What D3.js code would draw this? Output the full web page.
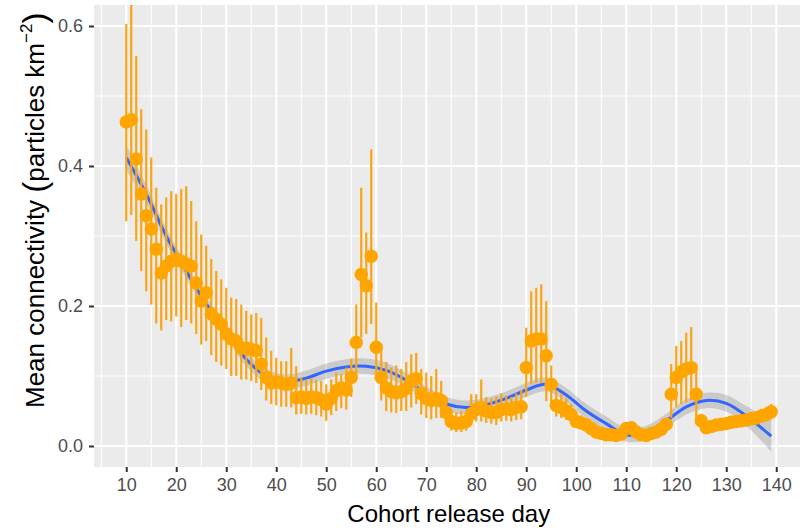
<!DOCTYPE html>
<html><head><meta charset="utf-8">
<script src="https://cdn.jsdelivr.net/npm/d3@7/dist/d3.min.js"></script>
<style>body{margin:0;background:#fff}svg{display:block}</style>
</head><body>
<svg id="chart" width="800" height="529"></svg>
<script>
// ---- data ----
const days = [10,11,12,13,14,15,16,17,18,19,20,21,22,23,24,25,26,27,28,29,30,31,32,33,34,35,36,37,38,39,
40,41,42,43,44,45,46,47,48,49,50,51,52,53,54,55,56,57,58,59,60,61,62,63,64,65,66,67,68,69,
70,71,72,73,74,75,76,77,78,79,80,81,82,83,84,85,86,87,88,89,90,91,92,93,94,95,96,97,98,99,
100,101,102,103,104,105,106,107,108,109,110,111,112,113,114,115,116,117,118,119,
120,121,122,123,124,125,126,127,128,129,130,131,132,133,134,135,136,137,138,139];
const meanConn = [0.463,0.466,0.41,0.36,0.329,0.31,0.281,0.247,0.257,0.264,0.267,0.264,0.26,0.257,0.233,0.207,0.219,0.189,0.181,0.174,
0.16,0.153,0.15,0.14,0.14,0.138,0.136,0.117,0.098,0.09,0.092,0.09,0.088,0.09,0.069,0.07,0.068,0.07,0.069,0.066,
0.06,0.068,0.079,0.083,0.08,0.098,0.148,0.245,0.229,0.271,0.141,0.098,0.083,0.078,0.076,0.078,0.082,0.093,0.096,0.075,
0.068,0.065,0.068,0.065,0.048,0.035,0.032,0.033,0.035,0.046,0.052,0.055,0.05,0.048,0.048,0.052,0.053,0.052,0.055,0.056,
0.112,0.15,0.153,0.153,0.129,0.088,0.058,0.055,0.05,0.045,0.035,0.033,0.03,0.025,0.02,0.018,0.016,0.016,0.015,0.017,
0.025,0.026,0.02,0.016,0.015,0.018,0.02,0.024,0.031,0.074,0.098,0.106,0.11,0.112,0.074,0.036,0.026,0.028,0.03,0.031,
0.032,0.034,0.035,0.036,0.037,0.039,0.04,0.043,0.045,0.049];
const lowerCI = [0.321,0.33,0.293,0.25,0.221,0.202,0.175,0.165,0.18,0.178,0.185,0.17,0.18,0.175,0.16,0.145,0.15,0.13,0.12,0.115,
0.11,0.1,0.1,0.095,0.095,0.093,0.09,0.08,0.065,0.06,0.058,0.056,0.056,0.055,0.045,0.046,0.045,0.046,0.044,0.042,
0.036,0.044,0.05,0.054,0.052,0.07,0.1,0.155,0.16,0.174,0.095,0.065,0.05,0.048,0.047,0.05,0.05,0.055,0.06,0.045,
0.04,0.038,0.04,0.04,0.03,0.022,0.02,0.02,0.022,0.03,0.035,0.035,0.033,0.032,0.03,0.035,0.036,0.035,0.037,0.038,
0.07,0.088,0.09,0.09,0.064,0.062,0.042,0.04,0.037,0.033,0.026,0.024,0.022,0.018,0.014,0.012,0.011,0.011,0.01,0.012,
0.018,0.019,0.014,0.011,0.01,0.012,0.014,0.017,0.022,0.04,0.055,0.06,0.062,0.065,0.031,0.026,0.019,0.02,0.022,0.023,
0.024,0.025,0.026,0.027,0.028,0.03,0.031,0.033,0.035,0.038];
const upperCI = [0.603,0.66,0.557,0.481,0.452,0.412,0.369,0.345,0.355,0.364,0.36,0.367,0.371,0.35,0.321,0.302,0.286,0.267,0.25,0.238,
0.226,0.212,0.21,0.202,0.193,0.188,0.19,0.183,0.155,0.136,0.126,0.121,0.121,0.14,0.114,0.098,0.095,0.097,0.094,0.093,
0.088,0.095,0.105,0.103,0.112,0.125,0.202,0.369,0.305,0.424,0.205,0.14,0.12,0.112,0.115,0.11,0.12,0.131,0.133,0.11,
0.105,0.1,0.11,0.093,0.07,0.05,0.048,0.05,0.05,0.074,0.074,0.095,0.07,0.068,0.071,0.075,0.072,0.07,0.075,0.08,
0.169,0.221,0.226,0.231,0.207,0.115,0.08,0.075,0.068,0.06,0.046,0.044,0.04,0.034,0.028,0.025,0.022,0.022,0.021,0.023,
0.032,0.033,0.027,0.022,0.021,0.024,0.027,0.032,0.04,0.117,0.143,0.15,0.162,0.17,0.112,0.046,0.034,0.036,0.038,0.04,
0.041,0.043,0.044,0.045,0.046,0.048,0.05,0.053,0.056,0.06];
// smoother (fit and standard-error half-width) read at sample days
const smoothDays = [10,14,18,22,26,30,34,38,42,46,50,54,58,62,66,70,74,78,82,86,90,94,98,102,106,110,114,118,122,126,130,134,139];
const smoothFit  = [0.412,0.36,0.3,0.25,0.203,0.164,0.124,0.1,0.092,0.097,0.107,0.113,0.114,0.108,0.094,0.075,0.06,0.055,0.059,0.068,0.08,0.088,0.073,0.05,0.032,0.016,0.019,0.036,0.056,0.065,0.061,0.043,0.014];
const smoothSE   = [0.018,0.013,0.011,0.01,0.01,0.01,0.01,0.01,0.01,0.011,0.011,0.011,0.011,0.011,0.01,0.01,0.01,0.01,0.01,0.01,0.01,0.01,0.01,0.01,0.01,0.01,0.01,0.01,0.011,0.011,0.012,0.014,0.022];
const xTicks = [10,20,30,40,50,60,70,80,90,100,110,120,130,140];
const xMinor = [5,15,25,35,45,55,65,75,85,95,105,115,125,135,145];
const yTicks = [0,0.2,0.4,0.6];
const yMinor = [0.1,0.3,0.5];
const yTickLabels = ["0.0","0.2","0.4","0.6"];

// ---- layout ----
const svg = d3.select("#chart");
const P = {left:94, right:803.5, top:5, bottom:467};
const x = d3.scaleLinear().domain([3.55,145.45]).range([P.left,P.right]);
const y = d3.scaleLinear().domain([-0.03,0.63]).range([P.bottom,P.top]);

svg.append("rect").attr("x",0).attr("y",0).attr("width",800).attr("height",529).attr("fill","#fff");
svg.append("rect").attr("x",P.left).attr("y",P.top).attr("width",P.right-P.left).attr("height",P.bottom-P.top).attr("fill","#EBEBEB");

svg.append("defs").append("clipPath").attr("id","clip")
  .append("rect").attr("x",P.left).attr("y",P.top).attr("width",P.right-P.left).attr("height",P.bottom-P.top);

const grid = svg.append("g");
grid.selectAll(".xmin").data(xMinor).join("line")
  .attr("x1",d=>x(d)).attr("x2",d=>x(d)).attr("y1",P.top).attr("y2",P.bottom)
  .attr("stroke","#fff").attr("stroke-width",1.1);
grid.selectAll(".ymin").data(yMinor).join("line")
  .attr("y1",d=>y(d)).attr("y2",d=>y(d)).attr("x1",P.left).attr("x2",P.right)
  .attr("stroke","#fff").attr("stroke-width",1.1);
grid.selectAll(".xmaj").data(xTicks).join("line")
  .attr("x1",d=>x(d)).attr("x2",d=>x(d)).attr("y1",P.top).attr("y2",P.bottom)
  .attr("stroke","#fff").attr("stroke-width",2.2);
grid.selectAll(".ymaj").data(yTicks).join("line")
  .attr("y1",d=>y(d)).attr("y2",d=>y(d)).attr("x1",P.left).attr("x2",P.right)
  .attr("stroke","#fff").attr("stroke-width",2.2);

const plot = svg.append("g").attr("clip-path","url(#clip)");
const smooth = smoothDays.map((d,i)=>({day:d, fit:smoothFit[i], se:smoothSE[i]}));
plot.append("path").datum(smooth)
  .attr("d", d3.area().x(d=>x(d.day)).y0(d=>y(d.fit-d.se)).y1(d=>y(d.fit+d.se)).curve(d3.curveCatmullRom.alpha(0.5)))
  .attr("fill","#999999").attr("fill-opacity",0.4);
plot.append("path").datum(smooth)
  .attr("d", d3.line().x(d=>x(d.day)).y(d=>y(d.fit)).curve(d3.curveCatmullRom.alpha(0.5)))
  .attr("fill","none").attr("stroke","#3366FF").attr("stroke-width",3);

const pts = days.map((d,i)=>({day:d, m:meanConn[i], lo:lowerCI[i], hi:upperCI[i]}));
plot.selectAll(".eb").data(pts).join("line")
  .attr("x1",d=>x(d.day)).attr("x2",d=>x(d.day)).attr("y1",d=>y(d.lo)).attr("y2",d=>y(d.hi))
  .attr("stroke","#F8A516").attr("stroke-width",2.2);
plot.selectAll(".pt").data(pts).join("circle")
  .attr("cx",d=>x(d.day)).attr("cy",d=>y(d.m)).attr("r",6.7)
  .attr("fill","#FFA500");

// ---- axes ----
const xAxis = svg.append("g").attr("transform",`translate(0,${P.bottom})`)
  .call(d3.axisBottom(x).tickValues(xTicks).tickSize(5).tickPadding(6).tickFormat(d3.format("d")));
const yAxis = svg.append("g").attr("transform",`translate(${P.left},0)`)
  .call(d3.axisLeft(y).tickValues(yTicks).tickSize(5).tickPadding(6).tickFormat((d,i)=>yTickLabels[i]));
[xAxis,yAxis].forEach(a=>{
  a.select(".domain").remove();
  a.selectAll(".tick line").attr("stroke","#333333").attr("stroke-width",2);
  a.selectAll(".tick text").attr("fill","#4D4D4D").attr("font-size",18).attr("font-family","'Liberation Sans', Arial, sans-serif");
});
xAxis.selectAll(".tick text").attr("dy","0.71em");

svg.append("text").attr("x",(P.left+P.right)/2).attr("y",522)
  .attr("text-anchor","middle").attr("font-size",24).attr("fill","#000")
  .attr("font-family","'Liberation Sans', Arial, sans-serif").text("Cohort release day");

const yt = svg.append("text").attr("transform","translate(44,408) rotate(-90)")
  .attr("text-anchor","start").attr("font-size",26).attr("fill","#000")
  .attr("font-family","'Liberation Sans', Arial, sans-serif");
yt.append("tspan").text("Mean connectivity ");
yt.append("tspan").attr("font-size",33).attr("dy",2).text("(");
yt.append("tspan").attr("dy",-2).text("particles km");
yt.append("tspan").attr("font-size",17).attr("dy",-12).text("\u22122");
yt.append("tspan").attr("font-size",33).attr("dy",14).text(")");
</script>
</body></html>
